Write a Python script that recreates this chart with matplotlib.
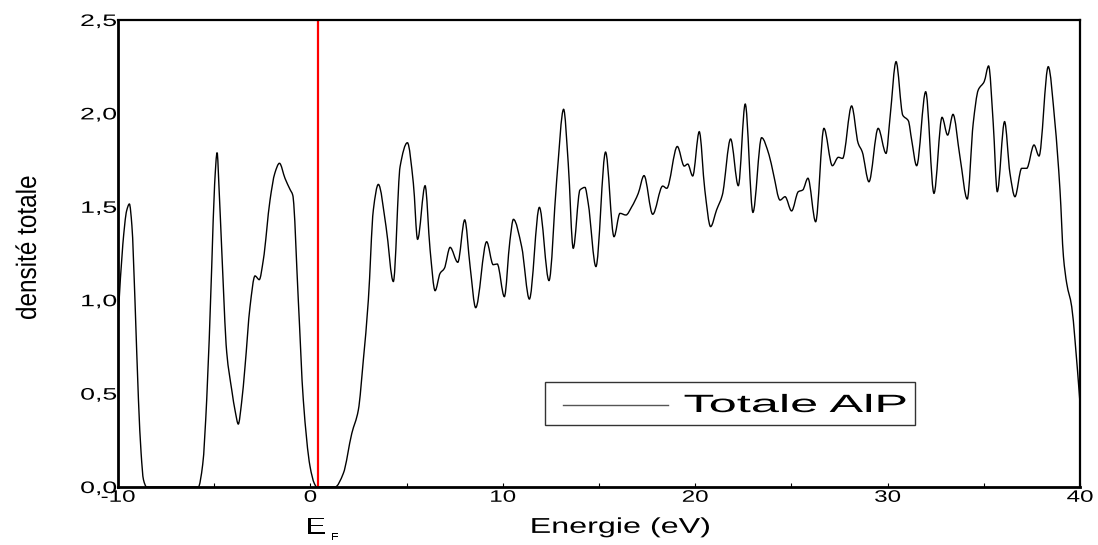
import matplotlib
matplotlib.use("Agg")
import numpy as np
import matplotlib.pyplot as plt
import matplotlib.transforms as mtransforms
from matplotlib.patheffects import AbstractPathEffect
from matplotlib.patches import Rectangle, PathPatch
from matplotlib.path import Path

# total density of states, AlP
energy = [-10.0, -9.75, -9.55, -9.41, -9.28, -9.12, -8.94, -8.80, -8.68, -8.51,
          -5.83, -5.60, -5.39, -5.13, -4.98, -4.85, -4.75, -4.61, -4.35, -4.09,
          -3.90, -3.75, -3.58, -3.40, -3.14, -2.88, -2.66, -2.45, -2.10, -1.85,
          -1.61, -1.32, -1.06, -0.92, -0.63, -0.37, -0.02, 0.20, 0.33, 1.28,
          1.71, 2.15, 2.49, 2.75, 3.01, 3.27, 3.53, 3.93, 4.31, 4.66,
          5.04, 5.35, 5.57, 5.96, 6.22, 6.48, 6.74, 6.96, 7.26, 7.66,
          8.02, 8.30, 8.59, 9.16, 9.50, 9.71, 10.08, 10.37, 10.55, 10.98,
          11.38, 11.90, 12.40, 12.80, 13.16, 13.40, 13.66, 14.01, 14.27, 14.44,
          14.84, 15.34, 15.78, 16.09, 16.40, 16.70, 17.04, 17.34, 17.79, 18.31,
          18.52, 19.07, 19.43, 19.61, 19.87, 20.21, 20.50, 20.80, 21.11, 21.41,
          21.84, 22.24, 22.60, 23.00, 23.45, 23.84, 24.06, 24.41, 24.67, 25.01,
          25.36, 25.59, 25.86, 26.26, 26.69, 27.13, 27.44, 27.66, 28.13, 28.47,
          28.68, 29.03, 29.51, 29.92, 30.13, 30.44, 30.79, 31.08, 31.25, 31.51,
          31.98, 32.41, 32.83, 33.12, 33.40, 33.76, 34.14, 34.45, 34.71, 35.02,
          35.25, 35.49, 35.70, 36.08, 36.36, 36.62, 36.97, 37.23, 37.61, 37.87,
          38.35, 38.70, 38.96, 39.14, 39.31, 39.57, 39.74, 40.0]
dos = [0.90, 1.30, 1.48, 1.515, 1.40, 1.00, 0.47, 0.18, 0.04, 0.0,
       0.0, 0.12, 0.47, 1.18, 1.62, 1.79, 1.60, 1.27, 0.72, 0.52,
       0.40, 0.337, 0.45, 0.644, 0.965, 1.13, 1.11, 1.215, 1.536, 1.68,
       1.733, 1.652, 1.593, 1.563, 1.0, 0.466, 0.11, 0.02, 0.0, 0.0,
       0.073, 0.287, 0.412, 0.68, 1.0, 1.483, 1.62, 1.394, 1.10, 1.715,
       1.843, 1.626, 1.326, 1.613, 1.27, 1.051, 1.144, 1.17, 1.283, 1.203,
       1.43, 1.18, 0.96, 1.313, 1.19, 1.194, 1.019, 1.32, 1.433, 1.286,
       1.006, 1.497, 1.105, 1.643, 2.022, 1.733, 1.278, 1.59, 1.604, 1.518,
       1.18, 1.793, 1.34, 1.465, 1.456, 1.50, 1.572, 1.667, 1.46, 1.611,
       1.599, 1.823, 1.718, 1.729, 1.665, 1.902, 1.59, 1.394, 1.483, 1.563,
       1.863, 1.613, 2.05, 1.47, 1.87, 1.777, 1.679, 1.536, 1.554, 1.478,
       1.581, 1.59, 1.653, 1.42, 1.92, 1.72, 1.765, 1.759, 2.04, 1.84,
       1.795, 1.634, 1.92, 1.786, 1.982, 2.277, 1.99, 1.96, 1.858, 1.72,
       2.116, 1.572, 1.979, 1.884, 1.995, 1.768, 1.542, 1.947, 2.125, 2.17,
       2.254, 1.947, 1.581, 1.956, 1.679, 1.554, 1.706, 1.706, 1.831, 1.772,
       2.25, 1.947, 1.59, 1.233, 1.09, 0.965, 0.787, 0.45]

fermi = 0.4
xticks = [-10, 0, 10, 20, 30, 40]
xtick_labels = ["-10", "0", "10", "20", "30", "40"]
yticks = [0.0, 0.5, 1.0, 1.5, 2.0, 2.5]
ytick_labels = ["0,0", "0,5", "1,0", "1,5", "2,0", "2,5"]


class HStretch(AbstractPathEffect):
    """Widen glyphs horizontally around the left, centre or right of the text."""

    def __init__(self, sx, anchor="center"):
        super().__init__()
        self.sx = sx
        self.anchor = anchor

    def draw_path(self, renderer, gc, tpath, affine, rgbFace=None):
        ext = tpath.get_extents(affine)
        x0 = {"left": ext.x0, "center": 0.5 * (ext.x0 + ext.x1), "right": ext.x1}[self.anchor]
        aff = affine + mtransforms.Affine2D().translate(-x0, 0).scale(self.sx, 1).translate(x0, 0)
        renderer.draw_path(gc, tpath, aff, rgbFace)


def smooth_path(x, y):
    """Cubic Bezier path through every point, with monotone (PCHIP-style) tangents."""
    x = np.asarray(x, float)
    y = np.asarray(y, float)
    h = np.diff(x)
    d = np.diff(y) / h
    m = np.zeros_like(y)
    m[0], m[-1] = d[0], d[-1]
    for i in range(1, len(x) - 1):
        if d[i - 1] * d[i] > 0:
            w1 = 2 * h[i] + h[i - 1]
            w2 = h[i] + 2 * h[i - 1]
            m[i] = (w1 + w2) / (w1 / d[i - 1] + w2 / d[i])
    verts = [(x[0], y[0])]
    codes = [Path.MOVETO]
    for i in range(len(x) - 1):
        verts += [(x[i] + h[i] / 3, y[i] + m[i] * h[i] / 3),
                  (x[i + 1] - h[i] / 3, y[i + 1] - m[i + 1] * h[i] / 3),
                  (x[i + 1], y[i + 1])]
        codes += [Path.CURVE4] * 3
    return Path(verts, codes)


font = "Liberation Sans"

fig = plt.figure(figsize=(10.98, 5.45), dpi=100)
ax = fig.add_axes([0.1075, 0.1064, 0.8761, 0.8569])

ax.add_patch(PathPatch(smooth_path(energy, dos), facecolor="none", edgecolor="black",
                       lw=1.0, transform=ax.transData))
ax.axvline(fermi, color="red", lw=1.6)

ax.set_xlim(-10, 40)
ax.set_ylim(0, 2.5)

ax.set_xticks(xticks)
ax.set_xticklabels(xtick_labels, fontsize=12, family=font)
ax.set_xticks([-5, 5, 15, 25, 35], minor=True)
ax.set_yticks(yticks)
ax.set_yticklabels(ytick_labels, fontsize=12, family=font)
ax.tick_params(axis="x", which="both", direction="in", length=3, width=0.8, pad=2)
ax.tick_params(axis="y", which="both", length=0, pad=1)

for lab in ax.get_xticklabels():
    lab.set_path_effects([HStretch(1.45, "center")])
for lab in ax.get_yticklabels():
    lab.set_path_effects([HStretch(1.6, "right")])

for side in ["left", "bottom"]:
    ax.spines[side].set_linewidth(2.0)
for side in ["top", "right"]:
    ax.spines[side].set_linewidth(1.6)

# axis titles
ax.text(0.522, -0.064, "Energie (eV)", transform=ax.transAxes, ha="center", va="top",
        fontsize=15.5, family=font, path_effects=[HStretch(1.5, "center")])
ax.text(-0.093, 0.512, "densité totale", transform=ax.transAxes, rotation=90,
        ha="center", va="center", fontsize=17.5,
        family=["Liberation Sans Narrow", "Liberation Sans"],
        path_effects=[HStretch(1.15, "center")])

# Fermi level marker below the axis
ax.text(fermi - 0.1, -0.064, "E", transform=ax.get_xaxis_transform(), ha="center", va="top",
        fontsize=17, family=font, path_effects=[HStretch(1.3, "center")])
ax.text(fermi + 0.85, -0.096, "F", transform=ax.get_xaxis_transform(), ha="center", va="top",
        fontsize=7, family=font, path_effects=[HStretch(1.3, "center")])

# legend box
ax.add_patch(Rectangle((0.444, 0.1328), 0.3845, 0.092, transform=ax.transAxes,
                       facecolor="white", edgecolor="#333333", lw=1.0, zorder=5))
ax.plot([0.4626, 0.5717], [0.1756, 0.1756], transform=ax.transAxes,
        color="#555555", lw=1.0, zorder=6)
ax.text(0.5884, 0.1756, "Totale AlP", transform=ax.transAxes, ha="left", va="center",
        fontsize=18, family=font, zorder=6, path_effects=[HStretch(2.02, "left")])

fig.savefig("out.png", dpi=100)
